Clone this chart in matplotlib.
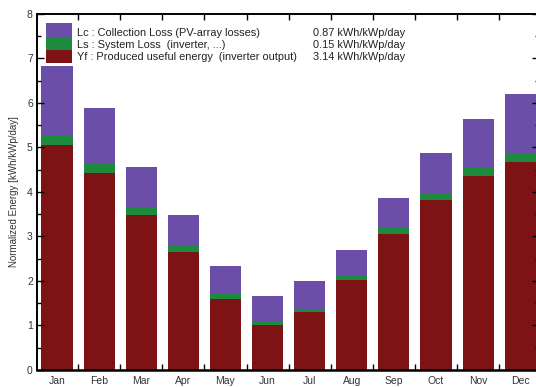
import matplotlib as mpl
mpl.use('Agg')
import matplotlib.pyplot as plt
from matplotlib.patches import Rectangle
import numpy as np

months = ['Jan', 'Feb', 'Mar', 'Apr', 'May', 'Jun', 'Jul', 'Aug', 'Sep', 'Oct', 'Nov', 'Dec']
# normalized energies, kWh/kWp/day
yf = [5.05, 4.43, 3.49, 2.64, 1.60, 1.01, 1.30, 2.03, 3.05, 3.81, 4.35, 4.67]
ls = [0.23, 0.20, 0.17, 0.16, 0.10, 0.07, 0.07, 0.11, 0.15, 0.15, 0.19, 0.21]
lc = [1.55, 1.26, 0.90, 0.68, 0.64, 0.59, 0.63, 0.55, 0.66, 0.92, 1.11, 1.33]

legend_labels = ['Lc : Collection Loss (PV-array losses)',
                 'Ls : System Loss  (inverter, ...)',
                 'Yf : Produced useful energy  (inverter output)']
legend_values = ['0.87 kWh/kWp/day', '0.15 kWh/kWp/day', '3.14 kWh/kWp/day']

c_lc = '#6a4ea8'
c_ls = '#1e8a3e'
c_yf = '#7d1315'

plt.rcParams['font.family'] = ['Liberation Sans', 'DejaVu Sans']

fig = plt.figure(figsize=(5.36, 3.87), dpi=100)
# right spine sits just outside the picture, as in the original screenshot
ax = fig.add_axes([0.069, 0.044, 0.937, 0.92])

x = np.arange(len(months))
yf = np.array(yf)
ls = np.array(ls)
lc = np.array(lc)
w = 0.74
ax.bar(x, yf, w, color=c_yf, linewidth=0)
ax.bar(x, ls, w, bottom=yf, color=c_ls, linewidth=0)
ax.bar(x, lc, w, bottom=yf + ls, color=c_lc, linewidth=0)

ax.set_xlim(-0.475, 11.45)
ax.set_ylim(0, 8)
ax.set_xticks(x)
ax.set_xticklabels(months, fontsize=7.5, color='#333333')
ax.set_xticks(x[:-1] + 0.5, minor=True)
ax.set_yticks(range(9))
ax.set_yticklabels([str(i) for i in range(9)], fontsize=7.5, color='#333333')
ax.set_yticks(np.arange(0.5, 8, 1), minor=True)
ax.tick_params(axis='x', which='major', length=0, pad=4)
ax.tick_params(axis='x', which='minor', direction='in', length=4, top=True, bottom=True, width=1)
ax.tick_params(axis='y', which='major', direction='in', length=5, left=True, right=True, pad=3, width=1)
ax.tick_params(axis='y', which='minor', direction='in', length=3, left=True, right=True, width=1)
for s in ax.spines.values():
    s.set_linewidth(1.4)
ax.spines['bottom'].set_linewidth(1.8)
ax.set_ylabel('Normalized Energy [kWh/kWp/day]', fontsize=7, color='#333333', labelpad=6)

# legend block
boxes = [(0.975, 0.933, c_lc), (0.933, 0.899, c_ls), (0.899, 0.862, c_yf)]
for (top, bot, c) in boxes:
    ax.add_patch(Rectangle((0.018, bot), 0.052, top - bot, transform=ax.transAxes,
                           color=c, linewidth=0, zorder=5))
ty = [0.947, 0.913, 0.879]
for lab, val, yy in zip(legend_labels, legend_values, ty):
    ax.text(0.080, yy, lab, transform=ax.transAxes, fontsize=7.9, va='center', color='#222222')
    ax.text(0.550, yy, val, transform=ax.transAxes, fontsize=7.9, va='center', color='#222222')

fig.savefig('out.png', dpi=100)
